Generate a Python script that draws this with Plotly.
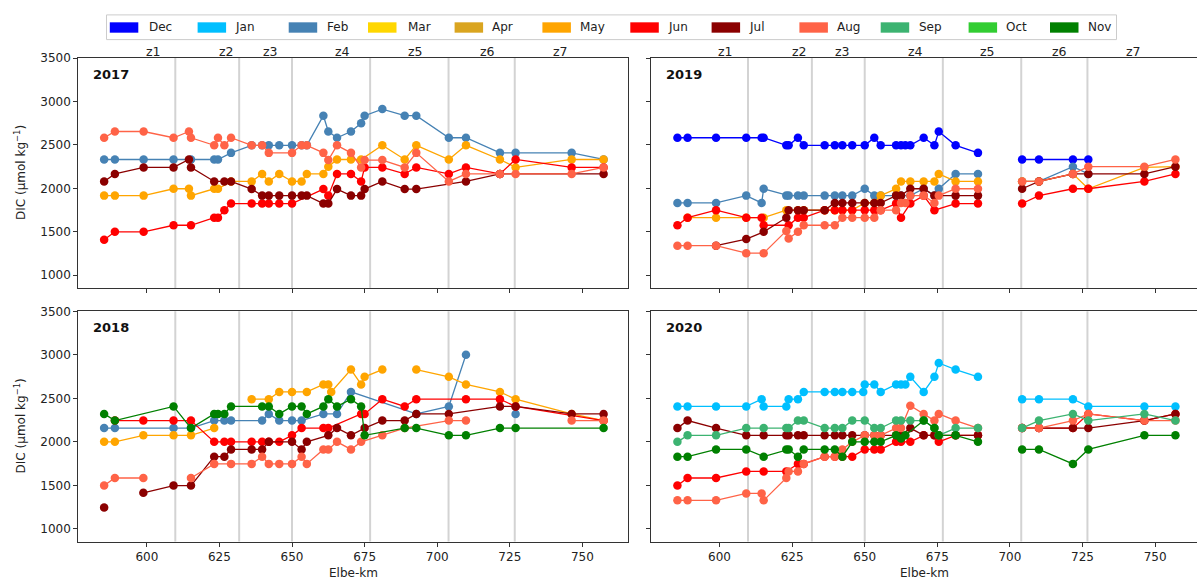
import plotly.graph_objects as go

# ---------------------------------------------------------------- data
MONTHS = ["Dec", "Jan", "Feb", "Mar", "Apr", "May", "Jun", "Jul", "Aug", "Sep", "Oct", "Nov"]
MONTH_COLORS = ["#0000FF", "#00BFFF", "#4682B4", "#FFD700", "#DAA520", "#FFA500",
                "#FF0000", "#8B0000", "#FF6347", "#3CB371", "#32CD32", "#008000"]

ZONE_BOUNDS = [609.8, 631.8, 650.0, 676.9, 703.9, 726.7]
ZONE_NAMES = ["z1", "z2", "z3", "z4", "z5", "z6", "z7"]
ZONE_LABEL_KM = [602.2, 627.4, 642.5, 667.5, 692.4, 717.2, 742.6]

X_TICKS = [600, 625, 650, 675, 700, 725, 750]
Y_TICKS = [1000, 1500, 2000, 2500, 3000, 3500]

# DIC (umol/kg) along the Elbe (km), one dict per year: month -> (km, dic)
dic_2017 = {
    "Feb": ([585.3, 589.0, 598.9, 609.2, 615.2, 623.2, 624.5, 629.0, 636.1, 639.7, 642.0, 645.6, 650.0,
             653.3, 655.1, 660.8, 662.5, 665.5, 670.3, 673.8, 675.0, 681.1, 688.8, 692.8, 704.0, 709.9,
             721.6, 727.0, 746.3, 757.3],
            [2333, 2333, 2333, 2333, 2333, 2333, 2333, 2409, 2496, 2496, 2496, 2496, 2496,
             2496, 2496, 2837, 2655, 2583, 2655, 2750, 2837, 2913, 2837, 2837, 2583, 2583,
             2409, 2409, 2409, 2333]),
    "May": ([585.3, 589.0, 598.9, 609.2, 614.5, 615.2, 623.2, 624.5, 629.0, 636.1, 639.7, 642.0, 645.6,
             650.0, 653.3, 655.1, 660.8, 662.5, 665.5, 670.3, 673.8, 681.1, 688.8, 692.8, 704.0, 709.9,
             721.6, 727.0, 746.3, 757.3],
            [1917, 1917, 1917, 1996, 1996, 1917, 1996, 1996, 2080, 2080, 2167, 2080, 2167,
             2080, 2080, 2167, 2167, 2250, 2333, 2333, 2333, 2496, 2333, 2496, 2333, 2496,
             2333, 2242, 2333, 2333]),
    "Jun": ([585.3, 589.0, 598.9, 609.2, 615.2, 623.2, 624.5, 626.7, 629.0, 636.1, 639.7, 642.0, 645.6,
             650.0, 660.8, 662.5, 665.5, 670.3, 673.8, 675.0, 681.1, 688.8, 692.8, 704.0, 709.9, 721.6,
             727.0, 746.3, 757.3],
            [1409, 1500, 1500, 1576, 1576, 1663, 1663, 1750, 1826, 1826, 1826, 1826, 1826,
             1826, 1992, 1917, 2167, 2167, 2080, 2242, 2242, 2167, 2242, 2167, 2242, 2167,
             2333, 2242, 2242]),
    "Jul": ([585.3, 589.0, 598.9, 609.2, 614.5, 615.2, 623.2, 626.7, 629.0, 636.1, 639.7, 642.0, 645.6,
             650.0, 653.3, 655.1, 660.8, 662.5, 665.5, 670.3, 673.8, 675.0, 681.1, 688.8, 692.8, 709.9,
             721.6, 757.3],
            [2080, 2167, 2242, 2242, 2333, 2242, 2080, 2080, 2080, 1992, 1917, 1917, 1917,
             1917, 1917, 1917, 1826, 1826, 1992, 1917, 1917, 1992, 2080, 1992, 1992, 2080,
             2167, 2167]),
    "Aug": ([585.3, 589.0, 598.9, 609.2, 614.5, 615.2, 623.2, 624.5, 626.7, 629.0, 636.1, 639.7, 642.0,
             650.0, 653.3, 655.1, 660.8, 662.5, 665.5, 670.3, 673.8, 675.0, 681.1, 688.8, 692.8, 704.0,
             709.9, 721.6, 727.0, 746.3, 757.3],
            [2583, 2655, 2655, 2583, 2655, 2583, 2496, 2583, 2496, 2583, 2496, 2496, 2409,
             2409, 2496, 2496, 2409, 2326, 2496, 2409, 2242, 2326, 2326, 2242, 2409, 2080,
             2167, 2167, 2167, 2167, 2242]),
}

dic_2018 = {
    "Feb": ([585.3, 589.0, 609.2, 615.2, 623.2, 626.7, 629.0, 639.7, 642.0, 645.6, 650.0, 653.3, 660.8,
             665.5, 670.3, 692.8, 704.0, 709.9, 721.6, 727.0],
            [2158, 2158, 2158, 2158, 2245, 2245, 2245, 2245, 2321, 2245, 2245, 2245, 2321,
             2321, 2574, 2321, 2407, 3000, None, 2321]),
    "May": ([585.3, 589.0, 598.8, 609.2, 615.2, 623.2, 629.0, 636.1, 642.0, 645.6, 650.0, 655.1, 660.8,
             662.5, 663.5, 670.3, 673.8, 675.0, 681.1, 688.8, 692.8, 704.0, 709.9, 721.6, 727.0, 746.3,
             757.3],
            [2000, 2000, 2075, 2075, 2075, 2158, None, 2490, 2490, 2574, 2574, 2574, 2660,
             2660, 2574, 2830, 2660, 2747, 2830, None, 2830, 2747, 2660, 2574, 2490, 2321,
             2245]),
    "Jun": ([589.0, 598.8, 609.2, 615.2, 623.2, 626.7, 629.0, 636.1, 639.7, 642.0, 645.6, 650.0, 653.3,
             660.8, 662.5, 673.8, 675.0, 681.1, 688.8, 692.8, 709.9, 721.6, 727.0, 757.3],
            [2245, 2245, 2245, 2245, 2000, 2000, 2000, 2000, 2000, 2000, 2000, 2075, 2158,
             2158, 2158, 2321, 2321, 2490, 2407, 2490, 2490, 2490, 2407, 2245]),
    "Jul": ([585.3, 589.0, 598.8, 609.2, 615.2, 623.2, 626.7, 629.0, 636.1, 639.7, 642.0, 650.0, 653.3,
             655.1, 662.5, 665.5, 670.3, 675.0, 681.1, 688.8, 692.8, 704.0, 721.6, 727.0, 746.3, 757.3],
            [1245, None, 1415, 1498, 1498, 1830, 1830, 1913, 1913, 1913, 2000, 2000, 1913,
             2000, 2075, 2158, 2075, 2158, 2245, 2245, 2321, 2321, 2407, 2407, 2321, 2321]),
    "Aug": ([585.3, 589.0, 598.8, 609.2, 615.2, 623.2, 629.0, 636.1, 639.7, 642.0, 645.6, 650.0, 653.3,
             655.1, 660.8, 662.5, 665.5, 670.3, 673.8, 681.1, 688.8, 704.0, 709.9, 727.0, 746.3, 757.3],
            [1498, 1585, 1585, None, 1585, 1747, 1747, 1747, 1830, 1747, 1747, 1747, 1830,
             1747, 1913, 1913, 2000, 1913, 2000, 2075, 2158, 2245, 2245, None, 2245, 2245]),
    "Nov": ([585.3, 589.0, 609.2, 615.2, 623.2, 624.5, 626.7, 629.0, 639.7, 642.0, 645.6, 650.0, 653.3,
             655.1, 660.8, 662.5, 665.5, 670.3, 673.8, 675.0, 688.8, 692.8, 704.0, 709.9, 721.6, 727.0,
             757.3],
            [2321, 2245, 2407, 2158, 2321, 2321, 2321, 2407, 2407, 2407, 2321, 2407, 2407,
             2321, 2407, 2490, 2407, 2490, 2407, 2075, 2158, 2158, 2075, 2075, 2158, 2158,
             2158]),
}

dic_2019 = {
    "Dec": ([585.5, 589.0, 598.8, 609.2, 614.5, 615.2, 623.0, 623.8, 627.0, 629.0, 636.2, 639.7, 642.3,
             645.7, 650.0, 653.3, 655.5, 660.8, 662.5, 664.0, 665.7, 670.3, 674.0, 675.5, 681.3, 689.0,
             697.0, 704.2, 710.0, 721.7, 727.0],
            [2583, 2583, 2583, 2583, 2583, 2583, 2496, 2496, 2583, 2496, 2496, 2496, 2496,
             2496, 2496, 2583, 2496, 2496, 2496, 2496, 2496, 2583, 2496, 2655, 2496, 2409,
             None, 2333, 2333, 2333, 2333]),
    "Feb": ([585.5, 589.0, 598.8, 609.2, 614.5, 615.2, 623.0, 623.8, 627.0, 629.0, 636.2, 639.7, 642.3,
             645.7, 650.0, 653.3, 655.5, 660.8, 662.5, 665.7, 670.3, 674.0, 675.5, 681.3, 689.0, 697.0,
             704.2, 710.0, 721.7, 727.0],
            [1833, 1833, 1833, 1917, 1833, 1996, 1917, 1917, 1917, 1917, 1917, 1917, 1917,
             1917, 1996, 1917, 1917, 1917, 1917, 1917, 1996, 1917, 1996, 2167, 2167, None,
             2080, 2080, 2250, 2167]),
    "May": ([589.0, 598.8, 609.2, 615.2, 623.0, 627.0, 629.0, 636.2, 639.7, 642.3, 645.7, 650.0, 653.3,
             655.5, 660.8, 662.5, 665.7, 670.3, 674.0, 675.5, 681.3, 689.0, 697.0, 704.2, 710.0, 721.7,
             727.0, 746.3, 757.0],
            [1663, 1663, 1663, 1663, 1750, 1750, 1750, 1750, 1750, 1750, 1750, 1833, 1833,
             1917, 1996, 2080, 2080, 2080, 2080, 2167, 2080, 2080, None, 2080, 2080, 2167,
             1996, 2242, 2250]),
    "Jun": ([585.5, 589.0, 598.8, 609.2, 614.5, 615.2, 623.8, 627.0, 629.0, 636.2, 639.7, 642.3, 645.7,
             650.0, 653.3, 655.5, 660.8, 662.5, 665.7, 670.3, 674.0, 681.3, 689.0, 697.0, 704.2, 710.0,
             721.7, 727.0, 746.3, 757.0],
            [1576, 1663, 1750, 1663, 1663, 1576, 1576, 1663, 1663, 1750, 1750, 1750, 1750,
             1750, 1750, 1750, 1826, 1663, 1826, 1917, 1750, 1826, 1826, None, 1826, 1917,
             1996, 1996, 2080, 2167]),
    "Jul": ([598.8, 609.2, 615.2, 623.0, 623.8, 627.0, 629.0, 636.2, 639.7, 642.3, 645.7, 650.0, 653.3,
             655.5, 660.8, 662.5, 665.7, 670.3, 674.0, 681.3, 689.0, 697.0, 704.2, 710.0, 721.7, 727.0,
             746.3, 757.0],
            [1341, 1417, 1500, 1663, 1750, 1750, 1750, 1750, 1833, 1833, 1833, 1833, 1833,
             1833, 1917, 1917, 1996, 1996, 1917, 1917, 1917, None, 1996, 2080, 2167, 2167,
             2167, 2250]),
    "Aug": ([585.5, 589.0, 598.8, 609.2, 615.2, 623.0, 623.8, 627.0, 629.0, 636.2, 639.7, 642.3, 645.7,
             650.0, 653.3, 655.5, 660.8, 662.5, 664.0, 665.7, 670.3, 674.0, 675.5, 681.3, 689.0, 697.0,
             704.2, 710.0, 721.7, 727.0, 746.3, 757.0],
            [1341, 1341, 1341, 1254, 1254, 1511, 1424, 1500, 1576, 1576, 1576, 1663, 1663,
             1663, 1663, 1750, 1750, 1833, 1833, 1917, 1917, 1833, 1917, 1996, 1996, None,
             2080, 2080, 2167, 2250, 2250, 2333]),
}

dic_2020 = {
    "Jan": ([585.5, 589.0, 598.8, 609.2, 614.5, 615.2, 623.0, 623.8, 627.0, 629.0, 636.2, 639.7, 642.3,
             645.7, 649.5, 650.0, 653.3, 655.5, 660.8, 662.5, 664.0, 665.7, 670.3, 674.0, 675.5, 681.3,
             689.0, 697.0, 704.2, 710.0, 721.7, 727.0, 746.3, 757.0],
            [2407, 2407, 2407, 2407, 2490, 2407, 2407, 2490, 2490, 2574, 2574, 2574, 2574,
             2574, 2574, 2660, 2660, 2574, 2660, 2660, 2660, 2747, 2574, 2747, 2906, 2830,
             2747, None, 2490, 2490, 2490, 2407, 2407, 2407]),
    "Jun": ([585.5, 589.0, 598.8, 609.2, 615.2, 623.0, 627.0, 629.0, 636.2, 639.7, 642.3, 645.7, 650.0,
             653.3, 655.5, 660.8, 662.5, 665.7, 670.3, 674.0, 675.5, 681.3, 689.0, 697.0, 704.2, 710.0,
             721.7, 727.0, 746.3, 757.0],
            [1498, 1585, 1585, 1660, 1660, 1660, 1747, 1747, 1830, 1830, 1830, 1830, 1913,
             1913, 1913, 2000, 2000, 2000, 2075, 2075, 2000, 2075, 2075, None, 2158, 2158,
             2158, 2321, 2245, 2321]),
    "Jul": ([585.5, 589.0, 598.8, 609.2, 615.2, 623.0, 623.8, 627.0, 629.0, 636.2, 639.7, 642.3, 645.7,
             650.0, 653.3, 655.5, 660.8, 662.5, 665.7, 670.3, 674.0, 675.5, 681.3, 689.0, 697.0, 704.2,
             710.0, 721.7, 727.0, 746.3, 757.0],
            [2158, 2245, 2158, 2075, 2075, 2075, 2075, 2075, 2075, 2075, 2075, 2075, 2075,
             2075, 2075, 2075, 2075, 2075, 2158, 2075, 2075, 2075, 2075, 2075, None, 2158,
             2158, 2158, 2158, 2245, 2321]),
    "Aug": ([585.5, 589.0, 598.8, 609.2, 614.5, 615.2, 623.0, 623.8, 627.0, 629.0, 636.2, 639.7, 642.3,
             645.7, 650.0, 653.3, 655.5, 660.8, 662.5, 665.7, 670.3, 674.0, 675.5, 681.3, 689.0, 697.0,
             704.2, 710.0, 721.7, 727.0, 746.3, 757.0],
            [1328, 1328, 1328, 1407, 1407, 1328, 1585, 1660, 1660, 1747, 1830, 1830, 1913,
             2000, 2075, 2075, 2075, 2158, 2158, 2415, 2321, 2245, 2321, 2245, 2158, None,
             2158, 2158, 2245, 2321, 2245, 2245]),
    "Sep": ([585.5, 589.0, 598.8, 609.2, 615.2, 623.0, 623.8, 627.0, 629.0, 636.2, 639.7, 642.3, 645.7,
             650.0, 653.3, 655.5, 660.8, 662.5, 665.7, 670.3, 674.0, 675.5, 681.3, 689.0, 697.0, 704.2,
             710.0, 721.7, 727.0, 746.3, 757.0],
            [2000, 2075, 2075, 2158, 2158, 2158, 2158, 2245, 2245, 2158, 2158, 2158, 2245,
             2245, 2158, 2158, 2245, 2245, 2245, 2245, 2158, 2075, 2158, 2158, None, 2158,
             2245, 2321, 2245, 2321, 2245]),
    "Nov": ([585.5, 589.0, 598.8, 609.2, 615.2, 623.0, 623.8, 627.0, 629.0, 636.2, 639.7, 642.3, 645.7,
             650.0, 653.3, 655.5, 660.8, 662.5, 664.0, 670.3, 674.0, 675.5, 681.3, 689.0, 697.0, 704.2,
             710.0, 721.7, 727.0, 746.3, 757.0],
            [1830, 1830, 1913, 1913, 1830, 1913, 1913, 1830, 1913, 1913, 1913, 1830, 2000,
             2000, 2000, 2000, 2075, 2038, 2075, 2245, 2158, 2075, 2075, 2000, None, 1913,
             1913, 1747, 1913, 2075, 2075]),
}

# ---------------------------------------------------------------- layout helpers
W, H = 1197, 584


def px(x):
    return x / W


def py(y):
    return 1 - y / H


LEFT_X = [px(78.3), px(627.7)]
RIGHT_X = [px(651.0), 1.0]
TOP_Y = [py(284.3), py(51.7)]
BOT_Y = [py(541.0), py(308.0)]

X_RANGE_LEFT = [576.4, 765.6]
KM_PER_PX = (X_RANGE_LEFT[1] - X_RANGE_LEFT[0]) / (627.7 - 78.3)
X_RANGE_RIGHT = [576.4, 576.4 + (W - 651.0) * KM_PER_PX]
Y_RANGE = [855, 3500]

FONT = "DejaVu Sans"
TXT = "#222222"
AXLINE = "#333333"

panels = [
    # (year, data, xaxis id, yaxis id, x domain, y domain, x range, left?, top?)
    ("2017", dic_2017, "x", "y", LEFT_X, TOP_Y, X_RANGE_LEFT, True, True),
    ("2019", dic_2019, "x2", "y2", RIGHT_X, TOP_Y, X_RANGE_RIGHT, False, True),
    ("2018", dic_2018, "x3", "y3", LEFT_X, BOT_Y, X_RANGE_LEFT, True, False),
    ("2020", dic_2020, "x4", "y4", RIGHT_X, BOT_Y, X_RANGE_RIGHT, False, False),
]

fig = go.Figure()
shapes = []
annotations = []
layout_axes = {}

for year, data, xa, ya, xdom, ydom, xrng, is_left, is_top in panels:
    for month, color in zip(MONTHS, MONTH_COLORS):
        if month not in data:
            continue
        km, dic = data[month]
        fig.add_trace(go.Scatter(
            x=km, y=dic, xaxis=xa, yaxis=ya, mode="lines+markers",
            line=dict(color=color, width=1.3),
            marker=dict(color=color, size=8.5, line=dict(width=0)),
            connectgaps=False, showlegend=False, name=month,
        ))

    xkey = "xaxis" + xa[1:]
    ykey = "yaxis" + ya[1:]
    layout_axes[xkey] = dict(
        domain=xdom, range=xrng, anchor=ya, tickvals=X_TICKS,
        showticklabels=not is_top, ticks="outside", ticklen=4, tickwidth=1,
        tickcolor=AXLINE, showline=True, linecolor=AXLINE, linewidth=1,
        mirror=True, showgrid=False, zeroline=False,
        tickfont=dict(family=FONT, size=12, color=TXT),
    )
    layout_axes[ykey] = dict(
        domain=ydom, range=Y_RANGE, anchor=xa, tickvals=Y_TICKS,
        showticklabels=is_left, ticks="outside", ticklen=4, tickwidth=1,
        tickcolor=AXLINE, showline=True, linecolor=AXLINE, linewidth=1,
        mirror=is_left, showgrid=False, zeroline=False,
        tickfont=dict(family=FONT, size=12, color=TXT),
    )

    # zone boundaries
    for b in ZONE_BOUNDS:
        shapes.append(dict(type="line", xref=xa, yref=ya + " domain", x0=b, x1=b,
                           y0=0, y1=1, line=dict(color="#d3d3d3", width=2), layer="below"))

    # year label
    annotations.append(dict(text="<b>" + year + "</b>", xref=xa + " domain", yref=ya + " domain",
                            x=0.024, y=0.93, xanchor="left", yanchor="middle", showarrow=False,
                            font=dict(family=FONT, size=13, color="#111111")))

    if is_top:
        for name, km in zip(ZONE_NAMES, ZONE_LABEL_KM):
            annotations.append(dict(text=name, xref=xa, yref="paper", x=km, y=py(45),
                                    xanchor="center", yanchor="middle", showarrow=False,
                                    font=dict(family=FONT, size=12.5, color=TXT)))
    else:
        annotations.append(dict(text="Elbe-km", xref=xa + " domain", yref="paper", x=0.5,
                                y=py(573), xanchor="center", yanchor="middle", showarrow=False,
                                font=dict(family=FONT, size=12, color=TXT)))
    if is_left:
        annotations.append(dict(text="DIC (µmol kg<sup>−1</sup>)", xref="paper", yref=ya + " domain",
                                x=px(20), y=0.5, xanchor="center", yanchor="middle",
                                textangle=-90, showarrow=False,
                                font=dict(family=FONT, size=12, color=TXT)))

# ---------------------------------------------------------------- month legend
LEG_PATCH_X = [109.8, 197.6, 288.7, 368.0, 454.6, 542.4, 630.3, 711.6, 799.4, 880.7, 968.6, 1050.0]
LEG_TEXT_X = [146.8, 233.4, 324.5, 405.8, 490.4, 578.2, 666.0, 747.4, 835.3, 916.6, 1004.3, 1085.6]
shapes.append(dict(type="rect", xref="paper", yref="paper", x0=px(106.5), x1=px(1116.5),
                   y0=py(33), y1=py(8), line=dict(color="#cccccc", width=1),
                   fillcolor="rgba(255,255,255,0.9)"))
for month, color, x0, tx in zip(MONTHS, MONTH_COLORS, LEG_PATCH_X, LEG_TEXT_X):
    shapes.append(dict(type="rect", xref="paper", yref="paper", x0=px(x0), x1=px(x0 + 28.5),
                       y0=py(26), y1=py(15.5), line=dict(width=0), fillcolor=color))
    annotations.append(dict(text=month, xref="paper", yref="paper", x=px(tx), y=py(20.5),
                            xanchor="left", yanchor="middle", showarrow=False,
                            font=dict(family=FONT, size=12, color=TXT)))

fig.update_layout(
    width=W, height=H, margin=dict(l=0, r=0, t=0, b=0),
    paper_bgcolor="white", plot_bgcolor="white",
    shapes=shapes, annotations=annotations, showlegend=False,
    **layout_axes,
)

fig.write_html("out.html")
